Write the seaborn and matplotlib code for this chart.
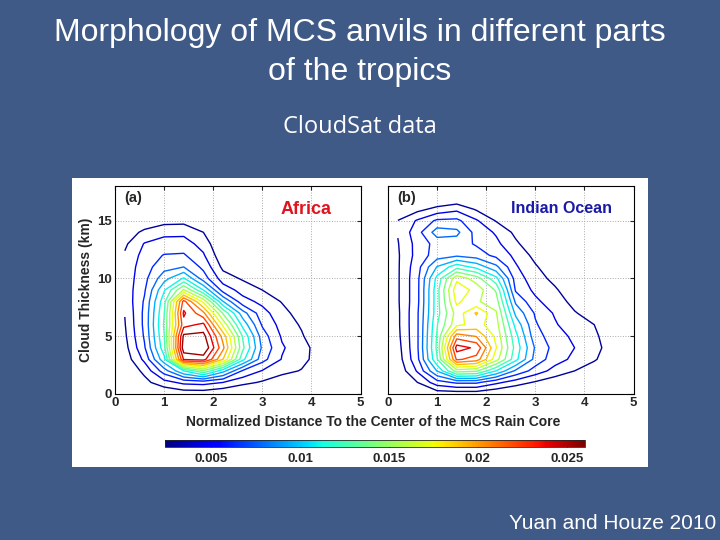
import numpy as np
import matplotlib
matplotlib.use("Agg")
import matplotlib.pyplot as plt
from matplotlib.colors import Normalize
from matplotlib.patches import Rectangle
import seaborn as sns

sns.set_style("white")
plt.rcParams['font.family'] = ['Liberation Sans', 'DejaVu Sans']

# grid of the CloudSat frequency fields (values x 1e-3)
x_dist = [0.2, 0.6, 1.0, 1.4, 1.8, 2.2, 2.6, 3.0, 3.4, 3.8, 4.2, 4.6]
y_km = [0, 1, 2, 3, 4, 5, 6, 7, 8, 9, 10, 11, 12, 13, 14, 15, 16, 17]

africa = [
    [0.5, 1.0, 1.5, 2.0, 2.0, 1.5, 1.0, 0.8, 0.5, 0.3, 0.2, 0.1],
    [1.0, 2.5, 4.0, 5.0, 5.2, 4.6, 3.5, 2.8, 2.0, 1.5, 0.8, 0.4],
    [1.6, 3.4, 7.0, 11.0, 14.0, 10.0, 6.0, 4.5, 3.5, 2.9, 1.5, 0.8],
    [2.0, 5.0, 10.5, 24.0, 24.5, 19.0, 11.5, 6.8, 4.5, 3.5, 2.2, 1.0],
    [2.4, 6.0, 12.0, 26.5, 27.0, 21.0, 13.0, 7.5, 4.8, 3.6, 2.2, 1.0],
    [2.7, 6.4, 12.5, 25.8, 26.0, 20.0, 12.5, 7.0, 4.4, 3.2, 1.5, 0.8],
    [2.9, 6.6, 12.8, 23.2, 24.2, 17.0, 10.5, 6.0, 4.0, 2.8, 1.2, 0.6],
    [3.05, 6.6, 12.5, 24.1, 21.0, 14.0, 8.5, 5.2, 3.6, 2.2, 1.0, 0.5],
    [3.4, 6.4, 12.0, 22.8, 17.0, 9.5, 5.2, 4.2, 2.9, 1.5, 0.7, 0.3],
    [3.6, 6.0, 10.8, 16.0, 11.0, 5.5, 4.0, 3.0, 2.0, 1.0, 0.5, 0.2],
    [3.6, 5.7, 8.8, 11.2, 7.0, 3.8, 2.8, 2.0, 1.2, 0.6, 0.3, 0.1],
    [3.5, 5.5, 7.2, 7.8, 5.8, 2.6, 1.8, 1.3, 0.7, 0.4, 0.2, 0.1],
    [3.2, 5.2, 6.3, 6.4, 4.8, 1.8, 1.2, 0.8, 0.4, 0.2, 0.1, 0.1],
    [2.7, 4.7, 5.2, 5.3, 4.0, 1.2, 0.8, 0.5, 0.3, 0.1, 0.1, 0.1],
    [2.0, 3.4, 4.2, 4.2, 3.0, 0.8, 0.5, 0.3, 0.2, 0.1, 0.1, 0.1],
    [1.2, 1.8, 2.4, 2.5, 1.8, 0.5, 0.3, 0.2, 0.1, 0.1, 0.1, 0.1],
    [0.6, 1.0, 1.3, 1.5, 1.0, 0.3, 0.2, 0.1, 0.1, 0.1, 0.1, 0.1],
    [0.3, 0.5, 0.8, 1.0, 0.5, 0.2, 0.1, 0.1, 0.1, 0.1, 0.1, 0.1],
]

indian = [
    [0.5, 1.2, 2.0, 2.0, 2.0, 1.5, 1.0, 0.8, 0.5, 0.3, 0.2, 0.1],
    [1.0, 3.0, 5.5, 6.5, 6.5, 5.0, 3.8, 2.8, 2.0, 1.5, 0.8, 0.4],
    [1.8, 4.8, 9.5, 15.0, 14.5, 11.0, 7.5, 5.5, 4.0, 3.0, 2.0, 1.0],
    [2.2, 5.8, 12.5, 22.5, 21.5, 16.5, 11.5, 7.2, 5.3, 4.2, 3.2, 1.8],
    [2.4, 6.0, 13.0, 24.5, 23.5, 17.5, 12.0, 7.6, 5.6, 4.6, 3.5, 2.2],
    [2.6, 6.0, 12.8, 21.5, 20.5, 17.0, 11.5, 6.8, 5.4, 4.2, 3.3, 2.0],
    [2.7, 6.0, 12.5, 17.0, 18.0, 16.5, 10.5, 6.4, 4.8, 3.5, 3.0, 1.5],
    [2.7, 6.0, 12.0, 16.5, 19.2, 16.0, 9.0, 6.0, 4.4, 3.1, 2.4, 1.0],
    [2.8, 5.8, 12.0, 17.8, 16.0, 15.0, 7.5, 5.0, 3.6, 2.6, 1.6, 0.6],
    [2.8, 5.8, 12.0, 18.5, 16.8, 14.0, 6.0, 4.2, 3.2, 2.0, 1.0, 0.3],
    [2.8, 5.8, 11.5, 17.0, 15.0, 11.5, 5.5, 3.6, 2.6, 1.4, 0.6, 0.3],
    [2.8, 5.6, 9.5, 12.0, 10.5, 8.2, 4.8, 3.2, 1.8, 0.9, 0.4, 0.3],
    [2.8, 5.2, 7.0, 7.5, 7.0, 5.8, 4.2, 2.5, 1.2, 0.6, 0.3, 0.3],
    [2.9, 5.2, 6.8, 7.0, 6.0, 5.0, 3.3, 1.8, 0.8, 0.4, 0.3, 0.3],
    [3.1, 5.6, 8.6, 8.2, 5.6, 4.4, 2.6, 1.2, 0.5, 0.3, 0.3, 0.3],
    [3.05, 4.8, 6.5, 6.6, 4.8, 2.9, 1.6, 0.6, 0.3, 0.3, 0.3, 0.3],
    [1.5, 2.5, 3.5, 4.2, 2.8, 2.0, 0.8, 0.3, 0.3, 0.3, 0.3, 0.3],
    [0.5, 0.8, 1.2, 1.5, 1.0, 0.8, 0.4, 0.2, 0.2, 0.2, 0.2, 0.2],
]

panel_tags = ['(a)', '(b)']
region_names = ['Africa', 'Indian Ocean']
region_colors = ['#e0141e', '#1a1aa8']
cbar_ticks = [0.005, 0.01, 0.015, 0.02, 0.025]
cbar_labels = ['0.005', '0.01', '0.015', '0.02', '0.025']

levels = np.arange(3, 26, 1.6) * 1e-3
norm = Normalize(vmin=0.0024, vmax=0.026)
jet = matplotlib.colormaps['jet']

slide_bg = '#405a88'
fig = plt.figure(figsize=(7.2, 5.4), dpi=100, facecolor=slide_bg)

# white figure panel pasted on the slide, kept behind the axes
fig.patches.append(Rectangle((0.1, 0.135), 0.8, 0.535, transform=fig.transFigure,
                             facecolor='white', edgecolor='none', zorder=-5))

fig.text(0.5, 0.903, 'Morphology of MCS anvils in different parts\nof the tropics',
         ha='center', va='center', color='white', fontsize=23, linespacing=1.42)
fig.text(0.5, 0.764, 'CloudSat data', ha='center', va='center', color='white',
         fontsize=17, family=['Open Sans', 'DejaVu Sans'])
fig.text(0.995, 0.031, 'Yuan and Houze 2010', ha='right', va='center', color='white',
         fontsize=15)

X, Y = np.meshgrid(x_dist, y_km)
lefts = [0.1597, 0.5389]
fields = [africa, indian]
name_pos = [(0.78, 0.885), (0.705, 0.89)]
name_size = [13, 11.5]

for i in range(2):
    ax = fig.add_axes([lefts[i], 0.2704, 0.341, 0.385])
    ax.set_facecolor('white')
    Z = np.array(fields[i]) * 1e-3
    ax.contour(X, Y, Z, levels=levels, cmap=jet, norm=norm, linewidths=1.0)
    ax.set_xlim(0, 5)
    ax.set_ylim(0, 18)
    ax.set_xticks([0, 1, 2, 3, 4, 5])
    ax.set_yticks([0, 5, 10, 15])
    ax.grid(True, linestyle=':', color='#aaaaaa', linewidth=0.7)
    ax.tick_params(direction='in', length=3, top=True, right=True, labelsize=9.5,
                   pad=2)
    for lab in ax.get_xticklabels() + ax.get_yticklabels():
        lab.set_fontweight('bold')
    for s in ax.spines.values():
        s.set_color('black')
        s.set_linewidth(0.8)
    if i == 0:
        ax.set_ylabel('Cloud Thickness (km)', fontsize=10, fontweight='bold', labelpad=3)
    else:
        ax.set_yticklabels([])
    ax.text(0.037, 0.945, panel_tags[i], transform=ax.transAxes, fontsize=10.5,
            fontweight='bold', va='center')
    ax.text(name_pos[i][0], name_pos[i][1], region_names[i], transform=ax.transAxes,
            fontsize=name_size[i], fontweight='bold', color=region_colors[i],
            ha='center', va='center')

fig.text(0.518, 0.219, 'Normalized Distance To the Center of the MCS Rain Core',
         ha='center', va='center', fontsize=10, fontweight='bold')

cax = fig.add_axes([0.229, 0.172, 0.583, 0.013])
sm = plt.cm.ScalarMappable(norm=norm, cmap=jet)
cb = fig.colorbar(sm, cax=cax, orientation='horizontal', ticks=cbar_ticks)
cb.set_ticklabels(cbar_labels)
cb.outline.set_linewidth(0.6)
cax.tick_params(direction='in', length=5, width=0.8, labelsize=9.5, pad=4)
for lab in cax.get_xticklabels():
    lab.set_fontweight('bold')

fig.savefig('out.png', dpi=100, facecolor=slide_bg)
